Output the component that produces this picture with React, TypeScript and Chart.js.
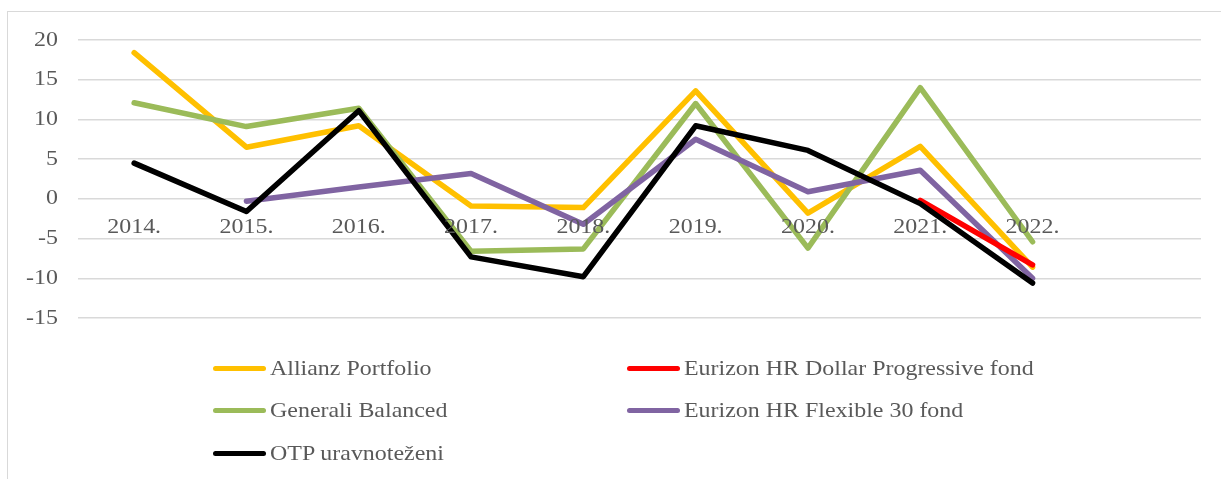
import React, { useEffect, useRef } from "react";
import { Chart, registerables } from "chart.js";

Chart.register(...registerables);

const categories = ["2014.", "2015.", "2016.", "2017.", "2018.", "2019.", "2020.", "2021.", "2022.", ""];
const allianz = [18.4, 6.5, 9.2, -0.9, -1.1, 13.6, -1.8, 6.6, -8.6, null];
const eurizonDollar = [null, null, null, null, null, null, null, -0.2, -8.3, null];
const generali = [12.1, 9.1, 11.4, -6.6, -6.3, 12.0, -6.2, 14.0, -5.4, null];
const eurizonFlex = [null, -0.3, 1.5, 3.2, -3.2, 7.5, 0.9, 3.6, -10.0, null];
const otp = [4.5, -1.6, 11.1, -7.3, -9.8, 9.2, 6.1, -0.6, -10.6, null];
const yTicks = [-15, -10, -5, 0, 5, 10, 15, 20];

const seriesNames = [
  "Allianz Portfolio",
  "Eurizon HR Dollar Progressive fond",
  "Generali Balanced",
  "Eurizon HR Flexible 30 fond",
  "OTP uravnoteženi",
];
const seriesColors = ["#FFC000", "#FF0000", "#9BBB59", "#8064A2", "#000000"];
const seriesData = [allianz, eurizonDollar, generali, eurizonFlex, otp];
// draw order: lower = on top
const seriesOrder = [4, 1, 3, 2, 0];

const FONT = "'Liberation Serif', 'Times New Roman', serif";
const FONT_SIZE = 21;
const STRETCH = 1.14;
const TEXT_COLOR = "#595959";

const stretchedTicks = {
  id: "stretchedTicks",
  afterDraw(chart: any) {
    const ctx = chart.ctx as CanvasRenderingContext2D;
    ctx.save();
    ctx.font = `${FONT_SIZE}px ${FONT}`;
    ctx.fillStyle = TEXT_COLOR;
    const xs = chart.scales.x;
    const ys = chart.scales.y;
    const zeroY = ys.getPixelForValue(0);
    ctx.textAlign = "center";
    ctx.textBaseline = "middle";
    xs.ticks.forEach((t: any, i: number) => {
      const label = categories[t.value] ?? "";
      if (!label) return;
      const x = xs.getPixelForTick(i);
      ctx.save();
      ctx.translate(x, zeroY + 29);
      ctx.scale(STRETCH, 1);
      ctx.fillText(label, 0, 0);
      ctx.restore();
    });
    ctx.textAlign = "right";
    ys.ticks.forEach((t: any) => {
      const y = ys.getPixelForValue(t.value);
      ctx.save();
      ctx.translate(ys.right - 20, y);
      ctx.scale(STRETCH, 1);
      ctx.fillText(String(t.value), 0, 0);
      ctx.restore();
    });
    ctx.restore();
  },
};

export default function App() {
  const ref = useRef<HTMLCanvasElement | null>(null);
  useEffect(() => {
    if (!ref.current) return;
    const chart = new Chart(ref.current, {
      type: "line",
      data: {
        labels: categories,
        datasets: seriesNames.map((name, i) => ({
          label: name,
          data: seriesData[i],
          borderColor: seriesColors[i],
          backgroundColor: seriesColors[i],
          borderWidth: 5.5,
          pointRadius: 0,
          pointHoverRadius: 0,
          tension: 0,
          spanGaps: false,
          borderCapStyle: "round",
          borderJoinStyle: "round",
          order: seriesOrder[i],
        })),
      },
      options: {
        animation: false,
        responsive: false,
        maintainAspectRatio: false,
        layout: { padding: { left: 8, right: 20, top: 40, bottom: 161 } },
        plugins: { legend: { display: false }, tooltip: { enabled: false } },
        scales: {
          x: {
            type: "category",
            offset: true,
            position: { y: 0 },
            grid: { display: false, drawTicks: false },
            border: { display: false },
            ticks: {
              color: "rgba(0,0,0,0)",
              font: { family: FONT, size: FONT_SIZE },
              padding: 13,
              maxRotation: 0,
              autoSkip: false,
            },
          },
          y: {
            min: -15,
            max: 20,
            afterBuildTicks: (s: any) => {
              s.ticks = yTicks.map((v) => ({ value: v }));
            },
            afterFit: (s: any) => {
              s.width = 70;
            },
            grid: { color: "#d9d9d9", lineWidth: 1.5, drawTicks: false },
            border: { display: false },
            ticks: {
              color: "rgba(0,0,0,0)",
              font: { family: FONT, size: FONT_SIZE },
              padding: 20,
            },
          },
        },
      },
      plugins: [stretchedTicks],
    });
    return () => chart.destroy();
  }, []);

  const legendRows = [
    [0, 1],
    [2, 3],
    [4],
  ];
  const rowY = [368, 410, 453];
  const colX = [213, 627];

  return (
    <div
      style={{
        position: "fixed",
        left: 0,
        top: 0,
        width: 1221,
        height: 479,
        overflow: "hidden",
        background: "#fff",
      }}
    >
      <div
        style={{
          position: "absolute",
          left: 7,
          top: 11,
          width: 1240,
          height: 500,
          border: "1px solid #d9d9d9",
          boxSizing: "border-box",
        }}
      />
      <canvas ref={ref} width={1221} height={479} style={{ position: "absolute", left: 0, top: 0 }} />
      {legendRows.map((row, r) =>
        row.map((si, c) => (
          <div
            key={si}
            style={{
              position: "absolute",
              left: colX[c],
              top: rowY[r] - 15,
              height: 30,
              display: "flex",
              alignItems: "center",
              fontFamily: FONT,
              fontSize: FONT_SIZE,
              color: TEXT_COLOR,
              whiteSpace: "nowrap",
            }}
          >
            <span
              style={{
                display: "inline-block",
                width: 53,
                height: 5,
                borderRadius: 3,
                background: seriesColors[si],
                marginRight: 4,
              }}
            />
            <span style={{ display: "inline-block", transform: `scaleX(${STRETCH})`, transformOrigin: "left center" }}>
              {seriesNames[si]}
            </span>
          </div>
        ))
      )}
    </div>
  );
}
